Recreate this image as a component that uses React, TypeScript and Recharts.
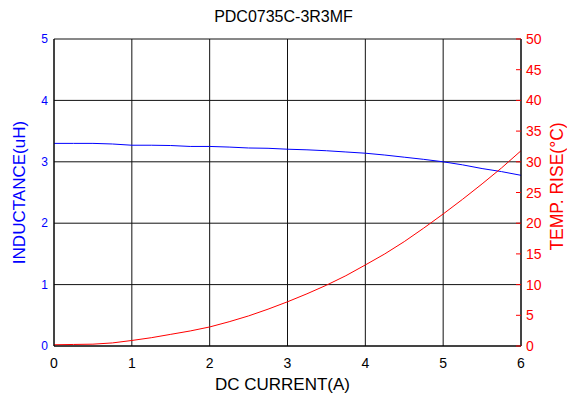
import React from 'react';
import { LineChart, Line, XAxis, YAxis, CartesianGrid } from 'recharts';

const current = [0, 0.25, 0.5, 0.75, 1, 1.25, 1.5, 1.75, 2, 2.25, 2.5, 2.75, 3, 3.25, 3.5, 3.75, 4, 4.25, 4.5, 4.75, 5, 5.25, 5.5, 5.75, 6];
const inductance = [3.3, 3.3, 3.3, 3.29, 3.27, 3.27, 3.265, 3.25, 3.25, 3.24, 3.225, 3.22, 3.205, 3.195, 3.18, 3.16, 3.14, 3.11, 3.075, 3.04, 3.0, 2.95, 2.89, 2.84, 2.78];
const tempRise = [0.2, 0.25, 0.3, 0.5, 0.9, 1.35, 1.9, 2.45, 3.1, 3.95, 4.9, 6.0, 7.2, 8.5, 9.9, 11.45, 13.2, 15.0, 17.0, 19.2, 21.5, 23.9, 26.4, 29.0, 31.8];

const xTicks = [0, 1, 2, 3, 4, 5, 6];
const leftTicks = [0, 1, 2, 3, 4, 5];
const rightTicks = [0, 5, 10, 15, 20, 25, 30, 35, 40, 45, 50];

const data = current.map((c, i) => ({ current: c, inductance: inductance[i], temp: tempRise[i] }));

const FONT = 'Arial, "Liberation Sans", sans-serif';

const RightTick = (props: any) => {
  const { x, y, payload } = props;
  return (
    <g>
      <line x1={x - 10} x2={x - 5} y1={y} y2={y} stroke="#ff0000" strokeWidth={1} />
      <text x={x} y={y} dy="0.36em" fill="#ff0000" fontSize={14} fontFamily={FONT} textAnchor="start">
        {payload.value}
      </text>
    </g>
  );
};

const LeftLabel = (props: any) => {
  const vb = props.viewBox;
  const cx = vb.x + 18.5;
  const cy = vb.y + vb.height / 2;
  return (
    <text x={cx} y={cy} transform={`rotate(-90 ${cx} ${cy})`} textAnchor="middle" dy="0.36em" fill="#0000ff" fontSize={17} fontFamily={FONT}>
      INDUCTANCE(uH)
    </text>
  );
};

const RightLabel = (props: any) => {
  const vb = props.viewBox;
  const cx = vb.x + 36;
  const cy = vb.y + vb.height / 2 - 6;
  return (
    <text x={cx} y={cy} transform={`rotate(-90 ${cx} ${cy})`} textAnchor="middle" dy="0.36em" fill="#ff0000" fontSize={17.5} fontFamily={FONT}>
      TEMP. RISE(°C)
    </text>
  );
};

const BottomLabel = (props: any) => {
  const vb = props.viewBox;
  const cx = vb.x + vb.width / 2 - 5;
  const cy = vb.y + 44;
  return (
    <text x={cx} y={cy} textAnchor="middle" fill="#000" fontSize={17} fontFamily={FONT}>
      DC CURRENT(A)
    </text>
  );
};

export default function App() {
  return (
    <div style={{ position: 'absolute', left: 0, top: 0, width: 567, height: 396, background: '#fff' }}>
      <div style={{ position: 'absolute', left: 0, top: 7, width: 567, textAlign: 'center', fontFamily: FONT, fontSize: 16, lineHeight: '20px', color: '#000' }}>
        PDC0735C-3R3MF
      </div>
      <LineChart width={567} height={396} data={data} margin={{ top: 39, right: 0, left: 0, bottom: 0 }}>
        <CartesianGrid yAxisId="L" stroke="#111" strokeWidth={1} />
        <XAxis
          dataKey="current"
          type="number"
          domain={[0, 6]}
          ticks={xTicks}
          height={50}
          tickLine={false}
          axisLine={{ stroke: '#000' }}
          tick={{ fill: '#000', fontSize: 14, fontFamily: FONT }}
          tickMargin={6}
          label={<BottomLabel />}
        />
        <YAxis
          yAxisId="L"
          orientation="left"
          domain={[0, 5]}
          ticks={leftTicks}
          width={54}
          tickLine={false}
          tickSize={0}
          tickMargin={6}
          axisLine={{ stroke: '#000' }}
          tick={{ fill: '#0000ff', fontSize: 12, fontFamily: FONT }}
          label={<LeftLabel />}
        />
        <YAxis
          yAxisId="R"
          orientation="right"
          domain={[0, 50]}
          ticks={rightTicks}
          width={46}
          tickLine={false}
          tickSize={0}
          tickMargin={5}
          axisLine={{ stroke: '#000' }}
          tick={<RightTick />}
          label={<RightLabel />}
        />
        <Line yAxisId="L" type="linear" dataKey="inductance" stroke="#0000ff" strokeWidth={1} dot={false} isAnimationActive={false} />
        <Line yAxisId="R" type="linear" dataKey="temp" stroke="#ff0000" strokeWidth={1} dot={false} isAnimationActive={false} />
      </LineChart>
    </div>
  );
}
